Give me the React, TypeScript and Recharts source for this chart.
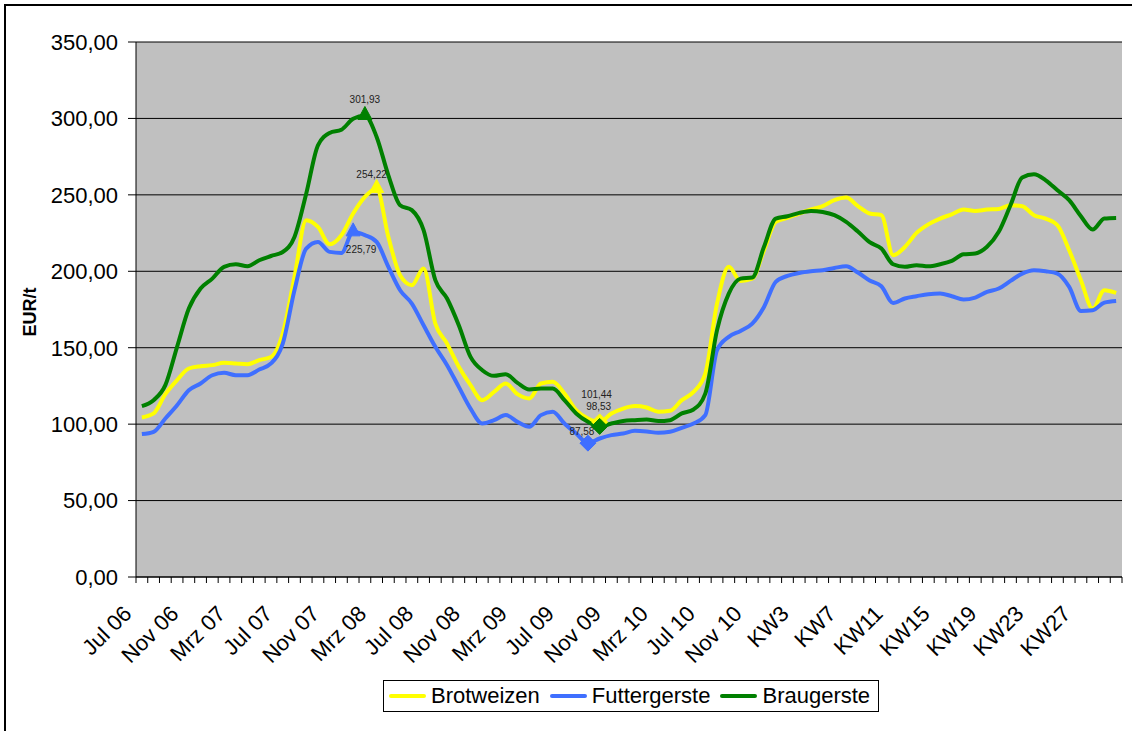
import React from 'react'
import { LineChart, Line, XAxis, YAxis, CartesianGrid, Legend } from 'recharts'

const categories = [
  'Jul 06', 'Aug 06', 'Sep 06', 'Okt 06', 'Nov 06', 'Dez 06',
  'Jan 07', 'Feb 07', 'Mrz 07', 'Apr 07', 'Mai 07', 'Jun 07', 'Jul 07', 'Aug 07', 'Sep 07', 'Okt 07', 'Nov 07', 'Dez 07',
  'Jan 08', 'Feb 08', 'Mrz 08', 'Apr 08', 'Mai 08', 'Jun 08', 'Jul 08', 'Aug 08', 'Sep 08', 'Okt 08', 'Nov 08', 'Dez 08',
  'Jan 09', 'Feb 09', 'Mrz 09', 'Apr 09', 'Mai 09', 'Jun 09', 'Jul 09', 'Aug 09', 'Sep 09', 'Okt 09', 'Nov 09', 'Dez 09',
  'Jan 10', 'Feb 10', 'Mrz 10', 'Apr 10', 'Mai 10', 'Jun 10', 'Jul 10', 'Aug 10', 'Sep 10', 'Okt 10', 'Nov 10', 'Dez 10',
  'KW1', 'KW2', 'KW3', 'KW4', 'KW5', 'KW6', 'KW7', 'KW8', 'KW9', 'KW10',
  'KW11', 'KW12', 'KW13', 'KW14', 'KW15', 'KW16', 'KW17', 'KW18', 'KW19', 'KW20',
  'KW21', 'KW22', 'KW23', 'KW24', 'KW25', 'KW26', 'KW27', 'KW28', 'KW29', 'KW30',
]

const brotweizen = [
  104.4, 107, 119.6, 128.8, 136.4, 137.9, 138.6, 140.1, 139.7, 139.2, 141.9, 144,
  159.3, 196.4, 233.4, 229, 217.7, 223.6, 237.8, 248.7, 254.22, 222.5, 197.4, 190.9,
  201.8, 165.8, 152.7, 137.5, 125.5, 115.7, 121.1, 126.6, 119.6, 116.8, 126.6, 127.7,
  120, 109.2, 103.7, 101.44, 106.9, 110.2, 111.8, 110.9, 108.1, 108.7, 115.7, 121.1,
  133.1, 178.9, 202.9, 193.7, 195.2, 213.8, 232.3, 234.9, 237.8, 240.4, 242.6, 246.5,
  248.2, 242.6, 237.8, 236.7, 210.5, 215.9, 225.1, 230.7, 234.5, 237.3, 240.4, 239.5,
  240.4, 240.8, 243.2, 242.6, 236.7, 234.5, 230.1, 213.8, 194.2, 175.6, 187.6, 185.8,
]

const futtergerste = [
  93.5, 95, 103.7, 112.4, 122.2, 126.6, 132, 133.6, 132, 132, 135.7, 139.7,
  152.7, 187.6, 214.8, 219.2, 212.7, 212, 225.79, 223.6, 219.2, 202.9, 187.6, 178.9,
  164.7, 150.6, 138.6, 124.4, 110.2, 100.4, 102.6, 105.9, 101.5, 98.3, 105.9, 108.1,
  100.4, 93.9, 87.58, 90.6, 92.8, 93.9, 95.6, 95.2, 94.3, 95, 97.6, 100.4,
  105.9, 148.4, 157.1, 161, 165.8, 176.7, 193.1, 197, 198.9, 200, 200.7, 202.2,
  203.3, 199.2, 194, 190.2, 179.3, 182.2, 183.7, 185, 185.4, 183.7, 181.5, 182.8,
  186.5, 188.7, 193.7, 198.5, 200.7, 200, 198.5, 189.8, 174.1, 174.5, 179.5, 180.6,
]

const braugerste = [
  111.8, 115.7, 125.5, 150.6, 175.6, 188.7, 195.2, 202.9, 204.6, 203.3, 207.2, 210,
  212.6, 222.5, 250.8, 282.4, 290.5, 292.6, 299.8, 301.93, 287.9, 262.8, 243.2, 240,
  226.9, 194.2, 182.2, 164.7, 144, 135.3, 131.6, 132.7, 127, 122.7, 123.3, 123.3,
  115.7, 107, 101.5, 98.53, 100.4, 102, 102.6, 103, 102, 102.6, 107, 109.6,
  120, 161.5, 185.4, 195.2, 195.9, 216, 234.5, 236, 238.2, 239.5, 238.8, 236.7,
  232.3, 226, 219, 214.9, 204.6, 202.9, 204, 203.3, 204.6, 206.8, 211.1, 211.6,
  216, 225.8, 243.2, 261.3, 263.4, 259.5, 253, 246.5, 236, 227.3, 234.5, 234.9,
]

const yTicks = [0, 50, 100, 150, 200, 250, 300, 350]

const FONT = '"Liberation Sans", Arial, sans-serif'
const W = 1132
const H = 731
const PLOT_LEFT = 136
const PLOT_RIGHT_GAP = 10
const STEP = (W - PLOT_LEFT - PLOT_RIGHT_GAP) / categories.length

// label offsets relative to the marked point (max / min)
const series = [
  { key: 'brotweizen', name: 'Brotweizen', color: '#FFFF00', values: brotweizen, maxOff: [-5, -10], minOff: [-3, -24] },
  { key: 'futtergerste', name: 'Futtergerste', color: '#3F6FFF', values: futtergerste, maxOff: [8, 21], minOff: [-6, -8] },
  { key: 'braugerste', name: 'Braugerste', color: '#008000', values: braugerste, maxOff: [0, -12], minOff: [-1, -16] },
]

const data = categories.map((cat, i) => ({
  cat,
  brotweizen: brotweizen[i],
  futtergerste: futtergerste[i],
  braugerste: braugerste[i],
}))

const fmt = (v: number) => v.toFixed(2).replace('.', ',')

function XTick(props: any) {
  const { x, y, payload, index } = props
  const half = STEP / 2
  const lx = x - 9
  const ly = y + 38
  return (
    <g>
      <line x1={x - half} y1={y} x2={x - half} y2={y + 6} stroke="#000" />
      {index === categories.length - 1 && (
        <line x1={x + half} y1={y} x2={x + half} y2={y + 6} stroke="#000" />
      )}
      {index % 4 === 0 && (
        <text
          x={lx}
          y={ly}
          textAnchor="end"
          transform={`rotate(-45, ${lx}, ${ly})`}
          fill="#000"
          fontSize={22}
          fontFamily={FONT}
        >
          {payload.value}
        </text>
      )}
    </g>
  )
}

function makeDot(s: typeof series[number]) {
  const maxI = s.values.indexOf(Math.max(...s.values))
  const minI = s.values.indexOf(Math.min(...s.values))
  return (props: any) => {
    const { cx, cy, index, value } = props
    if (index !== maxI && index !== minI) return <g key={index} />
    const isMax = index === maxI
    const off = isMax ? s.maxOff : s.minOff
    const shape = isMax
      ? `M${cx},${cy - 9} L${cx + 7},${cy + 4} L${cx - 7},${cy + 4} Z`
      : `M${cx},${cy - 8} L${cx + 8},${cy} L${cx},${cy + 8} L${cx - 8},${cy} Z`
    return (
      <g key={index}>
        <path d={shape} fill={s.color} stroke={s.color} />
        <text x={cx + off[0]} y={cy + off[1]} textAnchor="middle" fontSize={10} fill="#222" fontFamily={FONT}>
          {fmt(value)}
        </text>
      </g>
    )
  }
}

function LegendBox() {
  return (
    <div
      style={{
        display: 'flex',
        alignItems: 'center',
        height: 32,
        boxSizing: 'border-box',
        border: '1px solid #000',
        background: '#fff',
        padding: '0 8px 0 5px',
        fontFamily: FONT,
        fontSize: 22,
        color: '#000',
      }}
    >
      {series.map((s, i) => (
        <span key={s.key} style={{ display: 'flex', alignItems: 'center', marginLeft: i === 0 ? 0 : 10 }}>
          <span style={{ display: 'inline-block', width: 37, height: 4, borderRadius: 2, background: s.color, marginRight: 5 }} />
          {s.name}
        </span>
      ))}
    </div>
  )
}

export default function App() {
  return (
    <div style={{ position: 'absolute', left: 0, top: 0, width: W, height: H, overflow: 'hidden', background: '#fff', fontFamily: FONT }}>
      <div style={{ position: 'absolute', left: 4, top: 4, width: W + 20, height: H + 20, border: '2px solid #000' }} />
      <div
        style={{
          position: 'absolute',
          left: 30,
          top: 312,
          transform: 'translate(-50%, -50%) rotate(-90deg)',
          fontWeight: 'bold',
          fontSize: 18,
          whiteSpace: 'nowrap',
        }}
      >
        EUR/t
      </div>
      <div style={{ position: 'absolute', left: 0, top: 0 }}>
        <LineChart width={W} height={H} data={data} margin={{ top: 42, right: PLOT_RIGHT_GAP, bottom: 0, left: 0 }}>
          <CartesianGrid fill="#C0C0C0" stroke="#000" vertical={false} />
          <XAxis
            dataKey="cat"
            interval={0}
            tickSize={0}
            tickMargin={0}
            tickLine={false}
            height={122}
            padding={{ left: STEP / 2, right: STEP / 2 }}
            axisLine={{ stroke: '#000' }}
            tick={<XTick />}
          />
          <XAxis xAxisId="top" orientation="top" dataKey="cat" height={0} tick={false} tickLine={false} axisLine={{ stroke: '#808080' }} />
          <YAxis
            width={PLOT_LEFT}
            domain={[0, 350]}
            ticks={yTicks}
            tickFormatter={fmt}
            tickSize={8}
            tickMargin={10}
            tickLine={{ stroke: '#000' }}
            axisLine={{ stroke: '#000' }}
            tick={{ fill: '#000', fontSize: 22, fontFamily: FONT }}
          />
          <YAxis yAxisId="right" orientation="right" width={0} tick={false} tickLine={false} axisLine={{ stroke: '#808080' }} />
          <Legend
            verticalAlign="bottom"
            content={() => <LegendBox />}
            wrapperStyle={{ left: 383, bottom: 19, width: 'auto' }}
          />
          {series.map((s) => (
            <Line
              key={s.key}
              type="monotone"
              dataKey={s.key}
              name={s.name}
              stroke={s.color}
              strokeWidth={4}
              dot={makeDot(s)}
              activeDot={false}
              isAnimationActive={false}
            />
          ))}
        </LineChart>
      </div>
    </div>
  )
}
